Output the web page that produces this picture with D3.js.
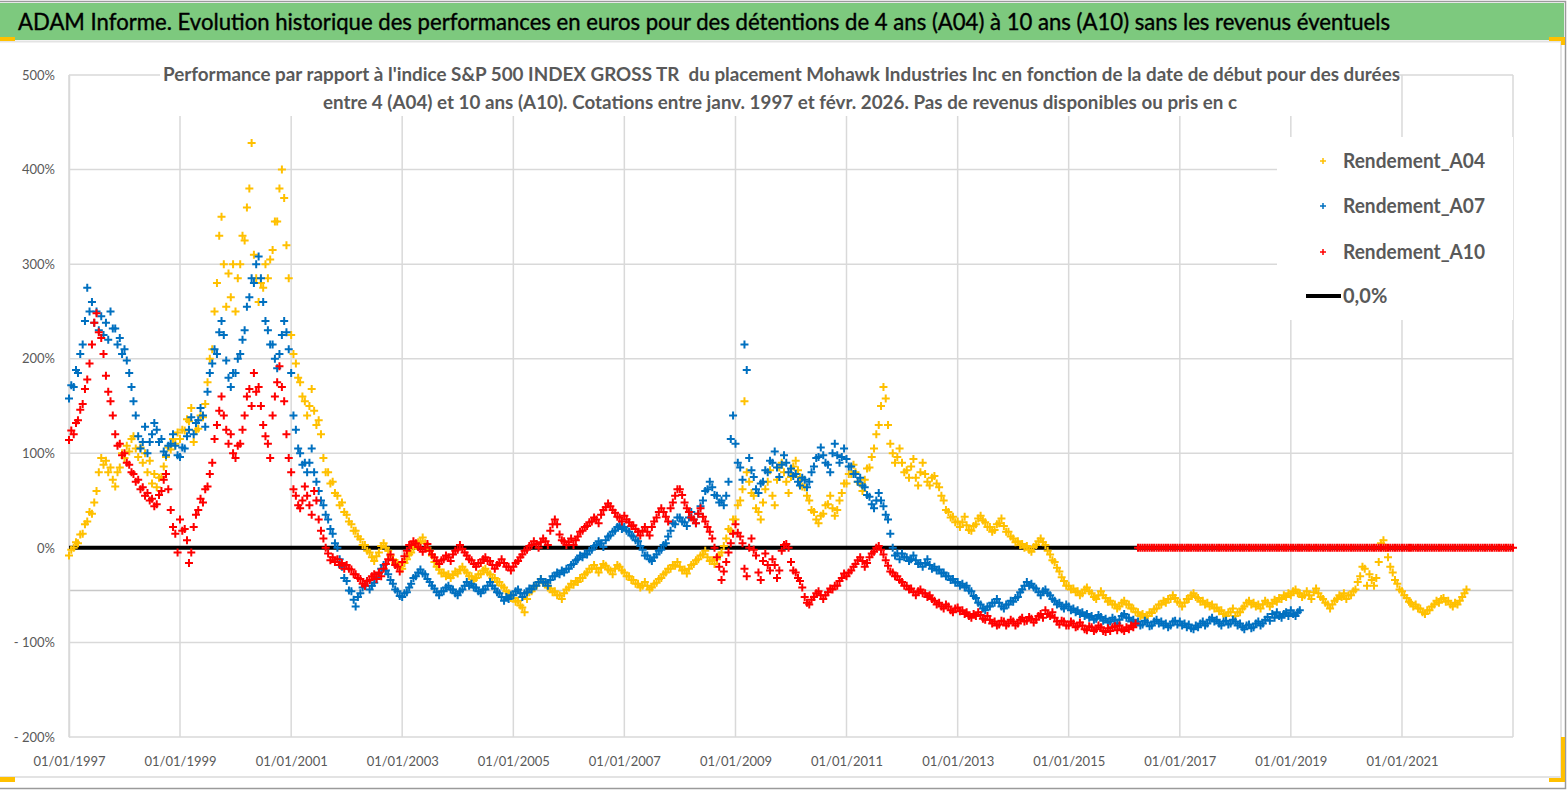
<!DOCTYPE html>
<html>
<head>
<meta charset="utf-8">
<script src="https://cdn.jsdelivr.net/npm/d3@7"></script>
<style>
  body { margin: 0; background: #fff; }
  svg { display: block; font-family: Lato, "Open Sans", sans-serif; }
</style>
</head>
<body>
<div id="chart"></div>
<script>
// values (%) twice a month (1st and 16th), first point = 01/01/1997, one line per year
const a04 = [
  -8, -2, 0, 6, 5, 14, 15, 25, 28, 38, 36, 48, 60, 80, 95, 88, 92, 80, 85, 72, 65, 80, 85, 100,
  95, 108, 102, 115, 118, 105, 96, 106, 90, 100, 80, 92, 68, 78, 64, 74, 75, 86, 96, 106, 104, 115, 110, 122,
  115, 125, 124, 136, 134, 148, 112, 124, 126, 140, 138, 152, 175, 200, 210, 250, 280, 330, 350, 300, 255, 290, 265, 300,
  250, 285, 300, 330, 325, 360, 380, 428, 310, 285, 260, 280, 275, 300, 285, 305, 315, 345, 345, 380, 400, 370, 320, 285,
  225, 205, 195, 180, 175, 160, 155, 140, 150, 168, 145, 130, 135, 120, 95, 80, 80, 68, 70, 58, 55, 45, 48, 38,
  35, 28, 25, 18, 18, 12, 9, 3, 3, -3, -5, -10, -14, -9, -5, 2, 5, 0, -3, -8, -12, -16, -16, -20,
  -22, -16, -12, -7, -5, 0, 2, 6, 7, 11, 5, 0, -3, -8, -15, -20, -23, -27, -26, -30, -28, -32, -29, -25,
  -27, -23, -20, -24, -26, -30, -30, -34, -32, -28, -28, -24, -22, -26, -28, -32, -32, -36, -36, -40, -42, -46, -48, -53,
  -53, -57, -56, -61, -63, -68, -54, -47, -46, -42, -40, -36, -33, -37, -38, -42, -43, -47, -46, -50, -50, -54, -48, -44,
  -42, -38, -39, -35, -36, -32, -32, -28, -26, -22, -22, -18, -22, -26, -21, -17, -19, -23, -24, -28, -22, -18, -20, -24,
  -26, -30, -30, -34, -34, -38, -38, -42, -40, -36, -40, -44, -42, -38, -37, -33, -32, -28, -26, -22, -22, -18, -19, -15,
  -20, -24, -23, -27, -22, -18, -17, -13, -12, -8, -7, -3, -10, -14, -13, -17, -12, -8, -5, 2, 10, 20, 18, 30,
  30, 45, 50, 62, 155, 80, 70, 58, 55, 42, 38, 30, 48, 62, 70, 82, 55, 45, 72, 85, 90, 80, 70, 58,
  75, 86, 92, 82, 75, 65, 64, 55, 50, 40, 38, 30, 26, 34, 36, 45, 46, 55, 42, 34, 40, 50, 58, 68,
  68, 78, 78, 88, 80, 70, 68, 60, 72, 84, 85, 96, 105, 120, 130, 150, 170, 158, 130, 110, 100, 90, 96, 105,
  90, 80, 82, 74, 86, 94, 74, 66, 80, 90, 78, 70, 66, 74, 76, 68, 64, 55, 50, 40, 38, 32, 33, 27,
  28, 22, 27, 33, 24, 19, 18, 23, 25, 31, 34, 29, 27, 22, 22, 17, 19, 25, 26, 31, 23, 17, 17, 12,
  10, 6, 7, 3, 4, 0, 2, -2, -4, 1, 3, 7, 10, 6, 3, -3, -7, -13, -15, -21, -25, -31, -35, -40,
  -40, -44, -43, -47, -46, -50, -48, -44, -42, -46, -48, -52, -54, -50, -46, -50, -53, -57, -56, -60, -60, -64, -62, -58,
  -56, -60, -60, -64, -64, -68, -68, -72, -70, -74, -72, -68, -69, -65, -64, -60, -60, -56, -58, -54, -54, -50, -53, -57,
  -58, -62, -58, -54, -54, -50, -48, -52, -53, -57, -56, -60, -58, -62, -60, -64, -63, -67, -66, -70, -72, -68, -68, -64,
  -72, -68, -68, -64, -62, -58, -56, -60, -58, -62, -60, -64, -60, -56, -58, -62, -59, -55, -57, -53, -54, -50, -52, -48,
  -50, -46, -44, -48, -48, -52, -50, -46, -50, -54, -47, -43, -48, -52, -54, -58, -60, -64, -60, -56, -54, -50, -52, -48,
  -54, -50, -50, -46, -44, -36, -30, -20, -22, -40, -28, -34, -40, -32, -15, 5, 8, 0, -10, -20, -26, -34, -38, -44,
  -46, -50, -53, -57, -58, -62, -60, -64, -64, -68, -70, -66, -66, -62, -60, -56, -58, -54, -53, -57, -56, -60, -62, -58,
  -60, -56, -52, -48, -44
];

const a07 = [
  158, 172, 170, 188, 185, 205, 215, 240, 275, 250, 260, 238, 250, 230, 245, 225, 238, 220, 250, 232, 232, 215, 222, 205,
  210, 198, 185, 170, 155, 140, 118, 105, 112, 128, 100, 112, 120, 132, 125, 112, 115, 102, 98, 108, 110, 120, 108, 98,
  96, 106, 105, 118, 125, 138, 120, 132, 135, 148, 140, 128, 165, 185, 195, 210, 205, 228, 240, 225, 198, 180, 170, 185,
  185, 200, 205, 220, 230, 255, 265, 285, 280, 300, 308, 285, 260, 240, 230, 215, 215, 200, 190, 205, 225, 240, 228, 210,
  185, 140, 125, 105, 100, 88, 90, 80, 90, 105, 80, 70, 60, 50, 45, 35, 30, 20, 15, 5, 0, -12, -20, -32,
  -35, -45, -46, -55, -62, -52, -48, -42, -40, -35, -44, -40, -37, -32, -27, -22, -18, -24, -28, -34, -38, -44, -46, -51,
  -52, -48, -47, -42, -38, -32, -30, -26, -23, -27, -28, -33, -36, -40, -43, -47, -50, -46, -46, -42, -40, -44, -44, -48,
  -50, -46, -44, -40, -36, -40, -38, -42, -42, -46, -48, -44, -44, -40, -36, -40, -43, -47, -48, -52, -56, -52, -54, -50,
  -50, -46, -44, -48, -52, -48, -47, -43, -44, -40, -40, -36, -33, -37, -36, -40, -34, -30, -30, -26, -28, -24, -26, -22,
  -22, -18, -17, -13, -12, -8, -10, -6, -7, -3, -2, 2, 3, 7, 5, 1, 8, 12, 13, 17, 18, 22, 24, 20,
  22, 18, 17, 13, 12, 8, 7, 2, -2, -8, -8, -12, -14, -10, -7, -3, -2, 3, 5, 12, 18, 26, 25, 32,
  32, 28, 27, 23, 32, 38, 30, 26, 36, 44, 50, 60, 62, 70, 64, 56, 55, 48, 50, 45, 55, 70, 115, 140,
  110, 90, 85, 72, 215, 188, 95, 82, 75, 62, 58, 68, 70, 82, 80, 92, 90, 102, 85, 75, 88, 98, 90, 80,
  84, 76, 78, 70, 66, 74, 72, 64, 70, 80, 86, 95, 96, 106, 98, 90, 88, 80, 100, 110, 98, 90, 96, 105,
  94, 86, 86, 78, 78, 70, 74, 66, 64, 56, 54, 46, 42, 50, 58, 50, 44, 35, 30, 15, 0, -8, -6, -12,
  -6, -10, -10, -14, -12, -8, -13, -17, -16, -20, -16, -12, -18, -22, -20, -24, -23, -27, -26, -30, -30, -34, -33, -37,
  -36, -40, -38, -42, -40, -45, -46, -51, -53, -58, -60, -64, -66, -62, -62, -58, -58, -54, -58, -62, -64, -60, -60, -56,
  -57, -53, -52, -47, -44, -40, -36, -40, -38, -42, -43, -47, -50, -46, -44, -48, -50, -54, -56, -60, -58, -62, -64, -60,
  -62, -66, -64, -68, -66, -70, -68, -72, -70, -74, -72, -76, -75, -71, -73, -77, -75, -79, -78, -74, -76, -80, -76, -72,
  -70, -74, -74, -78, -76, -80, -78, -82, -81, -77, -79, -83, -82, -78, -76, -80, -78, -82, -80, -84, -82, -78, -77, -81,
  -78, -82, -80, -84, -81, -85, -86, -82, -84, -80, -78, -82, -80, -76, -74, -78, -76, -80, -82, -78, -77, -81, -80, -76,
  -78, -82, -80, -84, -86, -82, -81, -85, -84, -80, -78, -82, -80, -76, -73, -77, -70, -74, -68, -72, -74, -70, -68, -72,
  -66, -70, -72, -68, -66
];

const a10 = [
  114, 124, 120, 132, 135, 146, 152, 168, 178, 195, 215, 238, 248, 228, 222, 205, 182, 165, 155, 140, 120, 108, 110, 98,
  100, 90, 88, 80, 78, 70, 72, 62, 64, 55, 58, 50, 52, 44, 46, 56, 60, 72, 78, 62, 40, 22, 15, -5,
  30, 18, 20, 8, -16, -5, 22, 35, 40, 52, 48, 62, 65, 78, 90, 115, 130, 145, 160, 140, 125, 110, 120, 100,
  95, 108, 110, 125, 140, 160, 168, 150, 185, 165, 170, 150, 130, 118, 110, 95, 140, 160, 175, 192, 170, 155, 120, 95,
  80, 62, 55, 45, 42, 50, 65, 55, 45, 35, 60, 50, 30, 18, 10, 0, -6, -13, -10, -15, -12, -18, -16, -22,
  -18, -22, -23, -28, -28, -32, -33, -38, -40, -35, -34, -30, -28, -33, -26, -30, -22, -17, -12, -7, -13, -18, -20, -25,
  -15, -9, -3, 3, 3, 7, 5, 1, 0, -4, 0, 4, -3, -7, -10, -14, -17, -13, -12, -8, -10, -14, -7, -3,
  -2, 3, -1, -5, -8, -12, -13, -17, -20, -16, -16, -12, -10, -14, -14, -18, -22, -18, -16, -12, -16, -20, -20, -24,
  -20, -16, -14, -10, -7, -3, -2, 2, 3, 7, 4, 0, 6, 10, 7, 3, 18, 25, 30, 25, 14, 8, 7, 3,
  6, 10, 3, 8, 12, 17, 18, 22, 23, 27, 28, 32, 30, 26, 35, 40, 43, 47, 44, 40, 37, 33, 32, 28,
  34, 30, 27, 23, 24, 20, 17, 13, 18, 22, 17, 13, 22, 28, 32, 38, 42, 38, 33, 28, 42, 48, 55, 62,
  62, 56, 48, 42, 38, 32, 30, 26, 36, 42, 33, 28, 22, 17, 10, 0, -10, -20, -34, -25, -15, -5, 5, 15,
  25, 16, 12, 5, -22, -30, 0, 10, -2, -8, -26, -34, -14, -6, -18, -24, -12, -18, -32, -24, -3, 3, 4, 0,
  -15, -24, -26, -32, -35, -42, -52, -58, -60, -55, -52, -48, -46, -50, -54, -50, -47, -43, -44, -40, -40, -35, -32, -27,
  -30, -26, -24, -20, -17, -13, -10, -14, -20, -16, -10, -6, -4, 0, 2, -2, -7, -13, -19, -25, -26, -30, -30, -34,
  -36, -40, -40, -44, -43, -47, -50, -46, -44, -48, -48, -52, -50, -54, -56, -60, -58, -62, -64, -60, -62, -66, -68, -64,
  -63, -67, -66, -70, -68, -72, -74, -70, -72, -68, -71, -75, -76, -72, -76, -80, -78, -82, -81, -77, -78, -82, -80, -76,
  -78, -82, -80, -76, -74, -78, -77, -73, -75, -79, -76, -72, -70, -74, -66, -70, -72, -68, -74, -78, -81, -77, -78, -82,
  -82, -78, -80, -84, -83, -79, -82, -86, -87, -83, -84, -88, -86, -82, -84, -88, -89, -85, -88, -84, -83, -87, -82, -86,
  -88, -84, -86, -82, -84, -80, 0, 0, 0, 0, 0, 0, 0, 0, 0, 0, 0, 0, 0, 0, 0, 0, 0, 0,
  0, 0, 0, 0, 0, 0, 0, 0, 0, 0, 0, 0, 0, 0, 0, 0, 0, 0, 0, 0, 0, 0, 0, 0,
  0, 0, 0, 0, 0, 0, 0, 0, 0, 0, 0, 0, 0, 0, 0, 0, 0, 0, 0, 0, 0, 0, 0, 0,
  0, 0, 0, 0, 0, 0, 0, 0, 0, 0, 0, 0, 0, 0, 0, 0, 0, 0, 0, 0, 0, 0, 0, 0,
  0, 0, 0, 0, 0, 0, 0, 0, 0, 0, 0, 0, 0, 0, 0, 0, 0, 0, 0, 0, 0, 0, 0, 0,
  0, 0, 0, 0, 0, 0, 0, 0, 0, 0, 0, 0, 0, 0, 0, 0, 0, 0, 0, 0, 0, 0, 0, 0,
  0, 0, 0, 0, 0, 0, 0, 0, 0, 0, 0, 0, 0, 0, 0, 0, 0, 0, 0, 0, 0, 0, 0, 0,
  0
];

const seriesNames = ["Rendement_A04", "Rendement_A07", "Rendement_A10"];
const seriesColors = ["#FFC000", "#0070C0", "#FF0000"];
const yTicks = [500, 400, 300, 200, 100, 0, -100, -200];
const xTickYears = [1997, 1999, 2001, 2003, 2005, 2007, 2009, 2011, 2013, 2015, 2017, 2019, 2021];
const xGridYears = xTickYears.concat([2023]);
const axisCrossValue = -45;

const titleText = "ADAM Informe. Evolution historique des performances en euros pour des détentions de 4 ans (A04) à 10 ans (A10) sans les revenus éventuels";
const subtitleLines = [
  "Performance par rapport à l'indice S&P 500 INDEX GROSS TR  du placement Mohawk Industries Inc en fonction de la date de début pour des durées",
  "entre 4 (A04) et 10 ans (A10). Cotations entre janv. 1997 et févr. 2026. Pas de revenus disponibles ou pris en c"
];

const chartWidth = 1567;
const chartHeight = 790;
const gridColor = "#d9d9d9";
const textColor = "#595959";
const titleGreen = "#7dc97e";
const handleColor = "#FFC000";

const x = d3.scaleTime()
  .domain([new Date(1997, 0, 1), new Date(2023, 0, 1)])
  .range([69, 1513]);
const y = d3.scaleLinear()
  .domain([-200, 500])
  .range([737, 75]);

// i-th observation: 1st or 16th of month floor(i/2)
const pointDate = i => new Date(1997, Math.floor(i / 2), i % 2 ? 16 : 1);

const svg = d3.select("#chart").append("svg")
  .attr("width", chartWidth)
  .attr("height", chartHeight);

svg.append("rect")
  .attr("width", chartWidth)
  .attr("height", chartHeight)
  .attr("fill", "#fff");

// outer frame
svg.append("path")
  .attr("d", "M0,1.5H1565.5V788.5H0")
  .attr("fill", "none")
  .attr("stroke", "#9a9a9a")
  .attr("stroke-width", 1.5);
svg.append("path")
  .attr("d", "M1561,42V777H0")
  .attr("fill", "none")
  .attr("stroke", "#e3e3e3")
  .attr("stroke-width", 2);

// title bar
svg.append("rect")
  .attr("x", 0).attr("y", 3)
  .attr("width", 1564).attr("height", 37)
  .attr("fill", titleGreen);
svg.append("line")
  .attr("x1", 0).attr("x2", 1561)
  .attr("y1", 41.5).attr("y2", 41.5)
  .attr("stroke", "#e3e3e3").attr("stroke-width", 2);
svg.append("text")
  .attr("x", 18).attr("y", 30)
  .attr("font-size", 24)
  .attr("fill", "#000")
  .attr("stroke", "#000")
  .attr("stroke-width", 0.4)
  .attr("textLength", 1372)
  .attr("lengthAdjust", "spacingAndGlyphs")
  .text(titleText);

// selection handles
const handles = [
  "M0,37H15V41H0Z",
  "M1549,37H1565V45H1561V41H1549Z",
  "M1561,737H1565V782H1549V778H1561Z",
  "M0,777H15V782H0Z"
];
svg.append("g").selectAll("path")
  .data(handles)
  .join("path")
  .attr("d", d => d)
  .attr("fill", handleColor);

// grid
svg.append("g").selectAll("line")
  .data(yTicks.filter(v => v !== -200))
  .join("line")
  .attr("x1", 69).attr("x2", 1513)
  .attr("y1", d => y(d)).attr("y2", d => y(d))
  .attr("stroke", gridColor).attr("stroke-width", 1.5);

svg.append("g").selectAll("line")
  .data(xGridYears)
  .join("line")
  .attr("x1", d => x(new Date(d, 0, 1))).attr("x2", d => x(new Date(d, 0, 1)))
  .attr("y1", 75).attr("y2", 737)
  .attr("stroke", gridColor).attr("stroke-width", 1.5);

svg.append("line")
  .attr("x1", 69).attr("x2", 1513)
  .attr("y1", y(axisCrossValue)).attr("y2", y(axisCrossValue))
  .attr("stroke", "#c8c8c8").attr("stroke-width", 1.5);
svg.append("line")
  .attr("x1", 69).attr("x2", 1513)
  .attr("y1", y(-200)).attr("y2", y(-200))
  .attr("stroke", gridColor).attr("stroke-width", 1.5);

// y labels
const yAxis = d3.axisLeft(y)
  .tickValues(yTicks)
  .tickSize(0)
  .tickPadding(14)
  .tickFormat(v => v < 0 ? "- " + Math.abs(v) + "%" : v + "%");
const yAxisG = svg.append("g")
  .attr("transform", "translate(69,0)")
  .call(yAxis);
yAxisG.select(".domain").attr("stroke", gridColor).attr("stroke-width", 1.5);
yAxisG.selectAll("text")
  .attr("font-family", "Lato, 'Open Sans', sans-serif")
  .attr("font-size", 13)
  .attr("fill", textColor);

// x labels
const xAxis = d3.axisBottom(x)
  .tickValues(xTickYears.map(yr => new Date(yr, 0, 1)))
  .tickSize(0)
  .tickPadding(20)
  .tickFormat(d3.timeFormat("%d/%m/%Y"));
const xAxisG = svg.append("g")
  .attr("transform", "translate(0,737)")
  .call(xAxis);
xAxisG.select(".domain").remove();
xAxisG.selectAll("text")
  .attr("font-family", "Lato, 'Open Sans', sans-serif")
  .attr("font-size", 13)
  .attr("fill", textColor);

// 0% line
svg.append("line")
  .attr("x1", x(new Date(1997, 0, 1))).attr("x2", x(new Date(2023, 0, 1)))
  .attr("y1", y(0)).attr("y2", y(0))
  .attr("stroke", "#000").attr("stroke-width", 4);

// scatter series
const plusPath = "M-4,0H4M0,-4V4";
[a04, a07, a10].forEach(function (values, k) {
  svg.append("g").selectAll("path")
    .data(values)
    .join("path")
    .attr("transform", (d, i) => "translate(" + x(pointDate(i)) + "," + y(d) + ")")
    .attr("d", plusPath)
    .attr("stroke", seriesColors[k])
    .attr("stroke-width", 2)
    .attr("fill", "none");
});

// subtitle box
svg.append("rect")
  .attr("x", 160).attr("y", 60)
  .attr("width", 1238).attr("height", 56)
  .attr("fill", "#fff");
subtitleLines.forEach(function (line, i) {
  svg.append("text")
    .attr("x", i === 0 ? 163 : 323)
    .attr("y", 81 + i * 28)
    .attr("font-size", 18)
    .attr("font-weight", "bold")
    .attr("fill", textColor)
    .attr("textLength", i === 0 ? 1237 : 914)
    .attr("lengthAdjust", "spacingAndGlyphs")
    .style("white-space", "pre")
    .text(line);
});

// legend
const legend = svg.append("g");
legend.append("rect")
  .attr("x", 1277).attr("y", 137)
  .attr("width", 236).attr("height", 183)
  .attr("fill", "#fff");
const legendY = [161, 206, 252, 296];
seriesNames.forEach(function (name, k) {
  legend.append("path")
    .attr("transform", "translate(1323," + legendY[k] + ")")
    .attr("d", "M-3,0H3M0,-3V3")
    .attr("stroke", seriesColors[k])
    .attr("stroke-width", 1.5);
  legend.append("text")
    .attr("x", 1343).attr("y", legendY[k] + 7)
    .attr("font-size", 20)
    .attr("font-weight", "bold")
    .attr("fill", textColor)
    .attr("textLength", 142)
    .attr("lengthAdjust", "spacingAndGlyphs")
    .text(name);
});
legend.append("line")
  .attr("x1", 1306).attr("x2", 1341)
  .attr("y1", legendY[3]).attr("y2", legendY[3])
  .attr("stroke", "#000").attr("stroke-width", 4);
legend.append("text")
  .attr("x", 1343).attr("y", legendY[3] + 7)
  .attr("font-size", 20)
  .attr("font-weight", "bold")
  .attr("fill", textColor)
  .text("0,0%");
</script>
</body>
</html>
